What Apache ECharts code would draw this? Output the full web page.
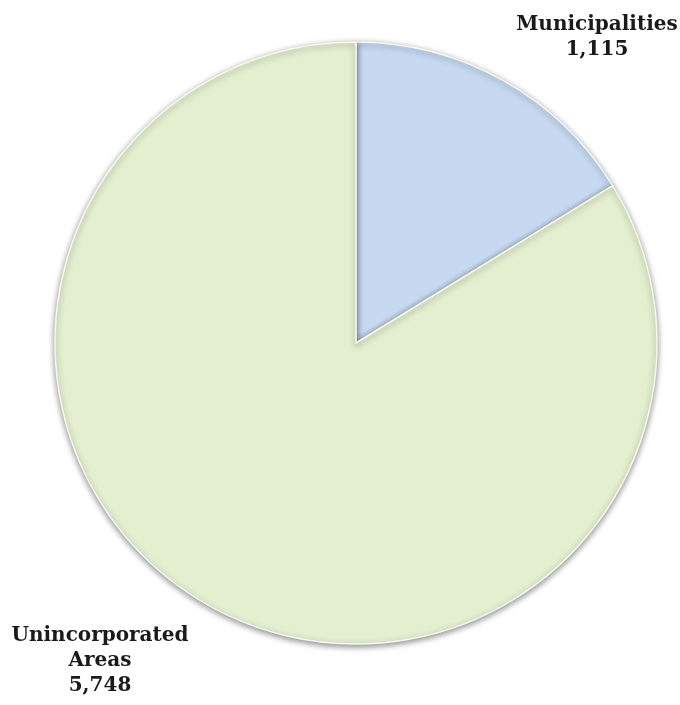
<!DOCTYPE html>
<html>
<head>
<meta charset="utf-8">
<script src="https://cdn.jsdelivr.net/npm/echarts@6/dist/echarts.min.js"></script>
<style>html,body{margin:0;padding:0;background:#fff;}#c{width:680px;height:705px;}</style>
</head>
<body>
<div id="c"></div>
<script>
const categories = ['Municipalities', 'Unincorporated\nAreas'];
const values = [1115, 5748];
const colors = ['#c6d9f1', '#e4efd0'];
const labelPos = [[597, 37], [100, 661]];

const chart = echarts.init(document.getElementById('c'));
const data = categories.map((name, i) => ({
  name: name,
  value: values[i],
  itemStyle: { color: colors[i] }
}));
chart.setOption({
  animation: false,
  series: [{
    type: 'pie',
    center: [356, 343],
    radius: [0, 301],
    startAngle: 90,
    clockwise: true,
    data: data,
    itemStyle: {
      borderColor: '#f7f9ef',
      borderWidth: 1.5,
      shadowBlur: 6,
      shadowColor: 'rgba(0,0,0,0.45)',
      shadowOffsetY: 2
    },
    emphasis: { disabled: true },
    label: {
      show: true,
      position: 'outside',
      formatter: p => p.name + '\n' + p.value.toLocaleString('en-US'),
      fontFamily: 'DejaVu Serif',
      fontWeight: 'bold',
      fontSize: 20,
      lineHeight: 25,
      color: '#1a1a1a',
      align: 'center',
      overflow: 'none',
      width: 300
    },
    labelLine: { show: false },
    labelLayout: function (params) {
      const p = labelPos[params.dataIndex];
      return { x: p[0], y: p[1], align: 'center', verticalAlign: 'middle' };
    }
  }]
});
</script>
</body>
</html>
